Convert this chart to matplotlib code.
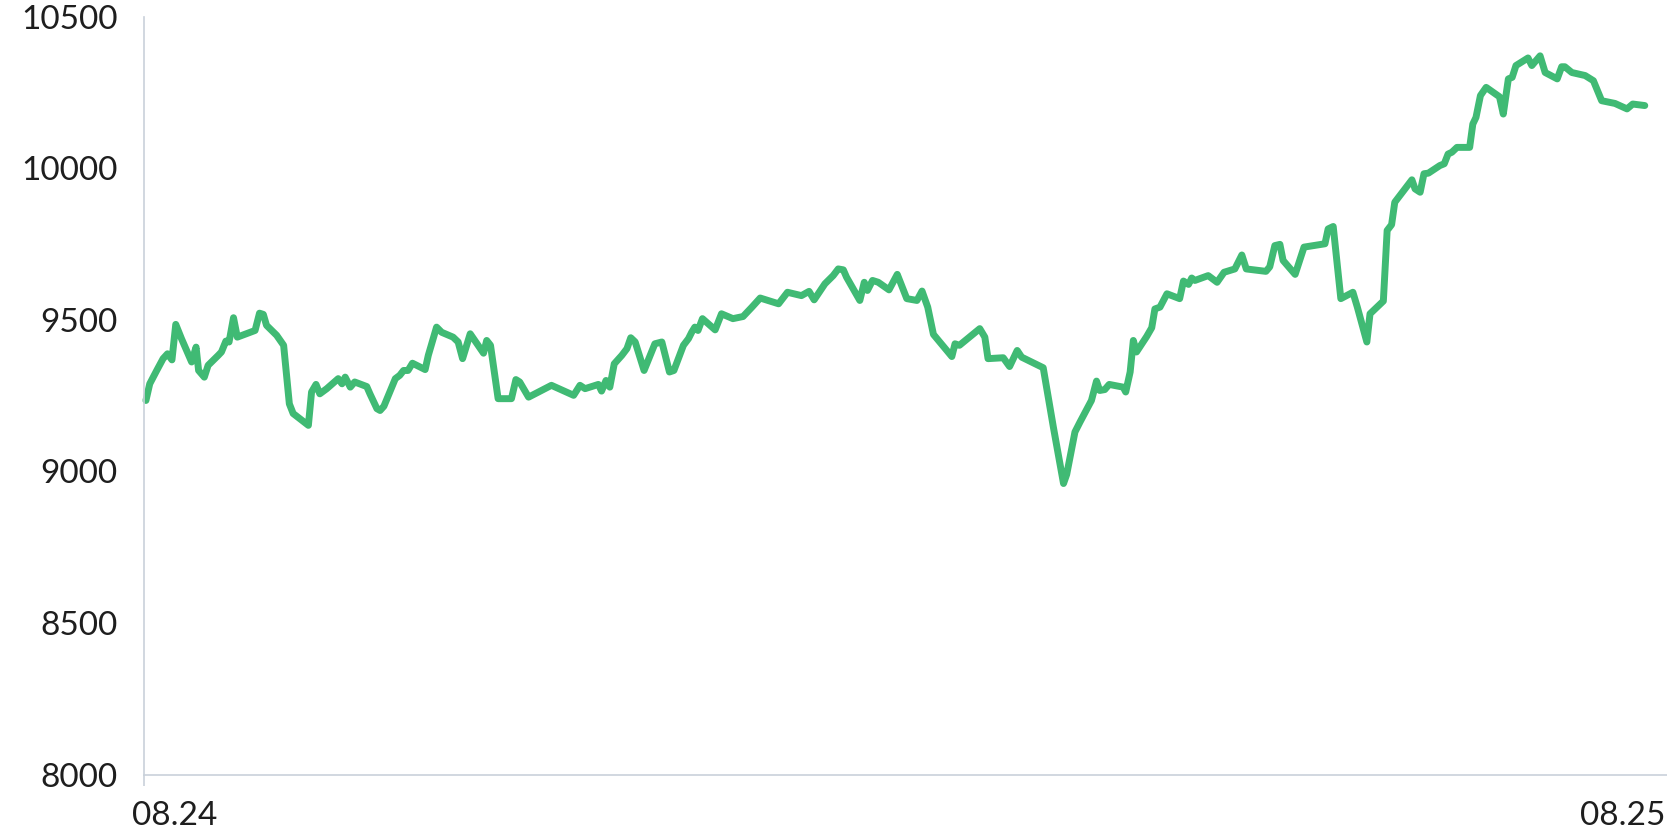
import matplotlib
matplotlib.use('Agg')
import matplotlib.pyplot as plt

# hours since 08.24 00:00 and index level
hours = [
    0.03, 0.09, 0.20, 0.30, 0.37, 0.44, 0.50, 0.59, 0.75, 0.82,
    0.86, 0.95, 1.01, 1.17, 1.22, 1.29, 1.34, 1.41, 1.47, 1.75,
    1.82, 1.88, 1.93, 2.09, 2.20, 2.29, 2.35, 2.59, 2.64, 2.71,
    2.77, 2.88, 3.06, 3.12, 3.17, 3.25, 3.32, 3.51, 3.56, 3.67,
    3.72, 3.78, 3.96, 4.03, 4.09, 4.16, 4.23, 4.43, 4.48, 4.61,
    4.69, 4.87, 4.95, 5.02, 5.14, 5.35, 5.40, 5.46, 5.58, 5.79,
    5.86, 5.92, 6.06, 6.42, 6.77, 6.87, 6.95, 7.16, 7.21, 7.28,
    7.34, 7.41, 7.53, 7.61, 7.67, 7.74, 7.88, 8.05, 8.16, 8.28,
    8.35, 8.50, 8.58, 8.63, 8.68, 8.73, 8.80, 9.00, 9.10, 9.28,
    9.44, 9.58, 9.71, 10.00, 10.14, 10.36, 10.48, 10.56, 10.73, 10.86,
    10.94, 11.02, 11.07, 11.28, 11.35, 11.40, 11.48, 11.57, 11.74, 11.87,
    12.02, 12.18, 12.26, 12.35, 12.44, 12.73, 12.78, 12.85, 13.17, 13.25,
    13.30, 13.54, 13.64, 13.76, 13.83, 14.17, 14.33, 14.49, 14.54, 14.67,
    14.75, 14.93, 15.01, 15.06, 15.14, 15.21, 15.43, 15.47, 15.54, 15.59,
    15.64, 15.80, 15.88, 15.93, 16.01, 16.12, 16.32, 16.38, 16.46, 16.51,
    16.56, 16.77, 16.91, 17.02, 17.19, 17.30, 17.37, 17.68, 17.74, 17.82,
    17.90, 17.95, 18.14, 18.28, 18.61, 18.66, 18.74, 18.86, 19.05, 19.12,
    19.17, 19.27, 19.32, 19.53, 19.59, 19.66, 19.71, 19.98, 20.03, 20.11,
    20.17, 20.24, 20.42, 20.49, 20.55, 20.61, 20.69, 20.89, 20.94, 20.99,
    21.06, 21.15, 21.36, 21.42, 21.50, 21.56, 21.62, 21.81, 21.87, 22.00,
    22.08, 22.27, 22.34, 22.39, 22.50, 22.71, 22.84, 22.97, 23.18, 23.37,
    23.46, 23.65,
]
values = [
    9234, 9289, 9333, 9372, 9388, 9368, 9485, 9438, 9361, 9410,
    9333, 9311, 9350, 9383, 9394, 9430, 9427, 9507, 9443, 9465,
    9522, 9518, 9482, 9449, 9416, 9223, 9191, 9152, 9262, 9287,
    9256, 9273, 9306, 9289, 9311, 9278, 9295, 9280, 9256, 9207,
    9201, 9215, 9306, 9317, 9333, 9333, 9357, 9336, 9383, 9476,
    9459, 9443, 9427, 9372, 9454, 9390, 9432, 9416, 9240, 9240,
    9303, 9295, 9245, 9284, 9251, 9284, 9273, 9287, 9265, 9300,
    9278, 9355, 9383, 9405, 9441, 9427, 9333, 9421, 9427, 9328,
    9333, 9416, 9438, 9459, 9476, 9465, 9504, 9467, 9520, 9504,
    9511, 9542, 9572, 9553, 9591, 9580, 9594, 9566, 9619, 9646,
    9668, 9665, 9641, 9564, 9624, 9597, 9630, 9624, 9599, 9650,
    9570, 9564, 9595, 9542, 9452, 9379, 9421, 9416, 9471, 9443,
    9372, 9375, 9346, 9399, 9377, 9342, 9146, 8960, 8990, 9130,
    9163, 9234, 9298, 9267, 9270, 9287, 9278, 9262, 9328, 9432,
    9394, 9445, 9474, 9536, 9542, 9586, 9570, 9628, 9617, 9638,
    9630, 9646, 9624, 9657, 9668, 9714, 9668, 9660, 9675, 9745,
    9749, 9696, 9650, 9740, 9751, 9800, 9808, 9570, 9591, 9542,
    9504, 9427, 9520, 9562, 9795, 9814, 9888, 9962, 9932, 9921,
    9982, 9984, 10009, 10015, 10047, 10053, 10069, 10069, 10146, 10168,
    10240, 10267, 10236, 10179, 10295, 10300, 10339, 10364, 10339, 10371,
    10316, 10295, 10335, 10335, 10316, 10306, 10289, 10223, 10214, 10196,
    10212, 10207,
]
y_ticks = [8000, 8500, 9000, 9500, 10000, 10500]
x_labels = ['08.24', '08.25']

plt.rcParams['font.family'] = ['Lato', 'DejaVu Sans']
axis_color = '#c9d1da'
text_color = '#1e1e1e'

fig = plt.figure(figsize=(16.67, 8.33), dpi=100)
ax = fig.add_axes([0.0864, 0.0702, 0.9136, 0.9097])

ax.plot(hours, values, color='#40ba74', linewidth=5,
        solid_joinstyle='round', solid_capstyle='round', clip_on=False)

ax.set_xlim(0, 24)
ax.set_ylim(8000, 10500)

for s in ['top', 'right']:
    ax.spines[s].set_visible(False)
for s in ['left', 'bottom']:
    ax.spines[s].set_color(axis_color)
    ax.spines[s].set_linewidth(1.2)

# y labels
ax.set_yticks(y_ticks)
ax.set_yticklabels([str(v) for v in y_ticks])
ax.tick_params(axis='y', length=0, pad=19, labelsize=24, labelcolor=text_color)

# only the corner ticks
ax.set_yticks([8000], minor=True)
ax.set_xticks([0], minor=True)
ax.tick_params(axis='y', which='minor', length=10, width=1.2, color=axis_color)
ax.tick_params(axis='x', which='minor', length=8, width=1.2, color=axis_color)

# x labels at the two ends
ax.set_xticks([])
ax.annotate(x_labels[0], xy=(0, 0), xycoords=('data', 'axes fraction'),
            xytext=(-9, -19), textcoords='offset points',
            ha='left', va='top', fontsize=24, color=text_color)
ax.annotate(x_labels[1], xy=(24, 0), xycoords=('data', 'axes fraction'),
            xytext=(-1.5, -19), textcoords='offset points',
            ha='right', va='top', fontsize=24, color=text_color,
            annotation_clip=False)

fig.savefig('out.png', dpi=100)
